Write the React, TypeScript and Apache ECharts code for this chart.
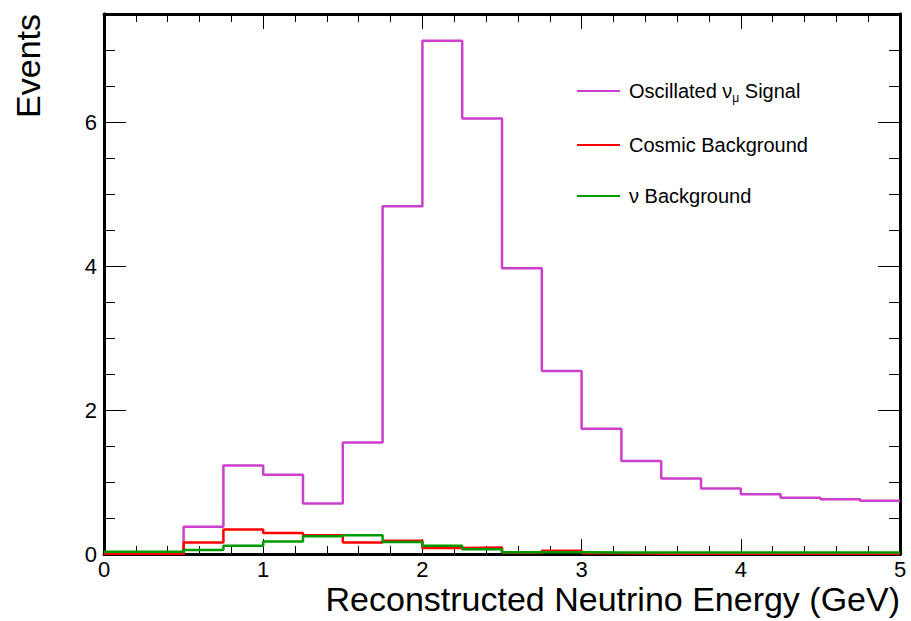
import React, { useEffect, useRef } from "react";
import * as echarts from "echarts";

// Bin edges: 0 .. 5 GeV in steps of 0.25
const binLow = [0, 0.25, 0.5, 0.75, 1, 1.25, 1.5, 1.75, 2, 2.25, 2.5, 2.75, 3, 3.25, 3.5, 3.75, 4, 4.25, 4.5, 4.75];
const xMax = 5;

const signalValues = [0, 0, 0.38, 1.23, 1.1, 0.7, 1.55, 4.83, 7.13, 6.05, 3.97, 2.54, 1.74, 1.29, 1.05, 0.91, 0.83, 0.78, 0.76, 0.74];
const cosmicValues = [0, 0, 0.16, 0.34, 0.29, 0.26, 0.16, 0.185, 0.085, 0.09, 0.02, 0.045, 0.01, 0.005, 0.005, 0.005, 0.005, 0.005, 0.005, 0.005];
const nuBgValues = [0.03, 0.03, 0.055, 0.115, 0.175, 0.245, 0.26, 0.165, 0.115, 0.065, 0.025, 0.025, 0.02, 0.02, 0.02, 0.02, 0.02, 0.02, 0.02, 0.02];

const seriesNames = ["Oscillated νμ Signal", "Cosmic Background", "ν Background"];
const seriesColors = ["#cc3fcc", "#ff0000", "#009a00"];

const xTitle = "Reconstructed Neutrino Energy (GeV)";
const yTitle = "Events";

const FONT = "'Liberation Sans', Arial, Helvetica, sans-serif";

function toSteps(values: number[]) {
  const pts = values.map((v, i) => [binLow[i], v]);
  pts.push([xMax, values[values.length - 1]]);
  return pts;
}

export default function App() {
  const ref = useRef<HTMLDivElement>(null);
  useEffect(() => {
    if (!ref.current) return;
    document.body.style.margin = "0";
    const chart = echarts.init(ref.current, null, { renderer: "svg" });
    const yCommon = { type: "value", min: 0, max: 7.5, splitLine: { show: false } };
    const axisLine = { show: true, onZero: false, lineStyle: { color: "#000", width: 3 } };
    const option: any = {
      animation: false,
      backgroundColor: "#fff",
      grid: { left: 104, right: 11, top: 14, bottom: 67, containLabel: false },
      legend: {
        orient: "vertical",
        left: 577,
        top: 81,
        padding: 0,
        itemGap: 31,
        itemWidth: 43,
        itemHeight: 2,
        icon: "rect",
        data: seriesNames,
        selectedMode: false,
        formatter: (n: string) => n.replace("νμ", "ν{sub|μ}"),
        textStyle: {
          fontFamily: FONT,
          fontSize: 20,
          color: "#000",
          padding: [0, 0, 0, 4],
          rich: { sub: { fontFamily: FONT, fontSize: 12, color: "#000", padding: [14, 0, 0, 0] } },
        },
      },
      xAxis: [
        {
          type: "value", min: 0, max: xMax, interval: 1, position: "bottom",
          axisLine, splitLine: { show: false },
          axisTick: { show: true, inside: true, length: 15, lineStyle: { color: "#000", width: 1 } },
          minorTick: { show: true, splitNumber: 5, length: 8, lineStyle: { color: "#000", width: 1 } },
          axisLabel: { fontFamily: FONT, fontSize: 22, lineHeight: 20, color: "#000", margin: 5 },
        },
        {
          type: "value", min: 0, max: xMax, interval: 1, position: "top",
          axisLine, splitLine: { show: false },
          axisTick: { show: true, inside: true, length: 15, lineStyle: { color: "#000", width: 1 } },
          minorTick: { show: true, splitNumber: 5, length: 8, lineStyle: { color: "#000", width: 1 } },
          axisLabel: { show: false },
        },
      ],
      yAxis: [
        {
          ...yCommon, interval: 2, position: "left", axisLine,
          axisTick: { show: true, inside: true, length: 22, lineStyle: { color: "#000", width: 1 } },
          axisLabel: {
            fontFamily: FONT, fontSize: 22, color: "#000", margin: 7, showMaxLabel: false,
            formatter: (v: number) => (v % 2 === 0 ? String(v) : ""),
          },
        },
        {
          ...yCommon, interval: 0.5, position: "left", axisLine,
          axisTick: { show: true, inside: true, length: 11, lineStyle: { color: "#000", width: 1 } },
          axisLabel: { show: false },
        },
        {
          ...yCommon, interval: 2, position: "right", axisLine,
          axisTick: { show: true, inside: true, length: 22, lineStyle: { color: "#000", width: 1 } },
          axisLabel: { show: false },
        },
        {
          ...yCommon, interval: 0.5, position: "right", axisLine,
          axisTick: { show: true, inside: true, length: 11, lineStyle: { color: "#000", width: 1 } },
          axisLabel: { show: false },
        },
      ],
      series: [signalValues, cosmicValues, nuBgValues].map((vals, i) => ({
        type: "line",
        name: seriesNames[i],
        step: "end",
        symbol: "none",
        xAxisIndex: 0,
        yAxisIndex: 0,
        data: toSteps(vals),
        color: seriesColors[i],
        lineStyle: { color: seriesColors[i], width: 2.5 },
        z: 2 + i,
      })),
      graphic: [
        {
          type: "text", x: 900, y: 584,
          style: { text: xTitle, font: `34px ${FONT}`, lineHeight: 30, fill: "#000", align: "right", verticalAlign: "top" },
        },
        {
          type: "text", x: 28, y: 14, rotation: Math.PI / 2,
          style: { text: yTitle, font: `34px ${FONT}`, fill: "#000", align: "right", verticalAlign: "middle" },
        },
      ],
    };
    chart.setOption(option);
    return () => chart.dispose();
  }, []);
  return <div ref={ref} style={{ width: 911, height: 621 }} />;
}
